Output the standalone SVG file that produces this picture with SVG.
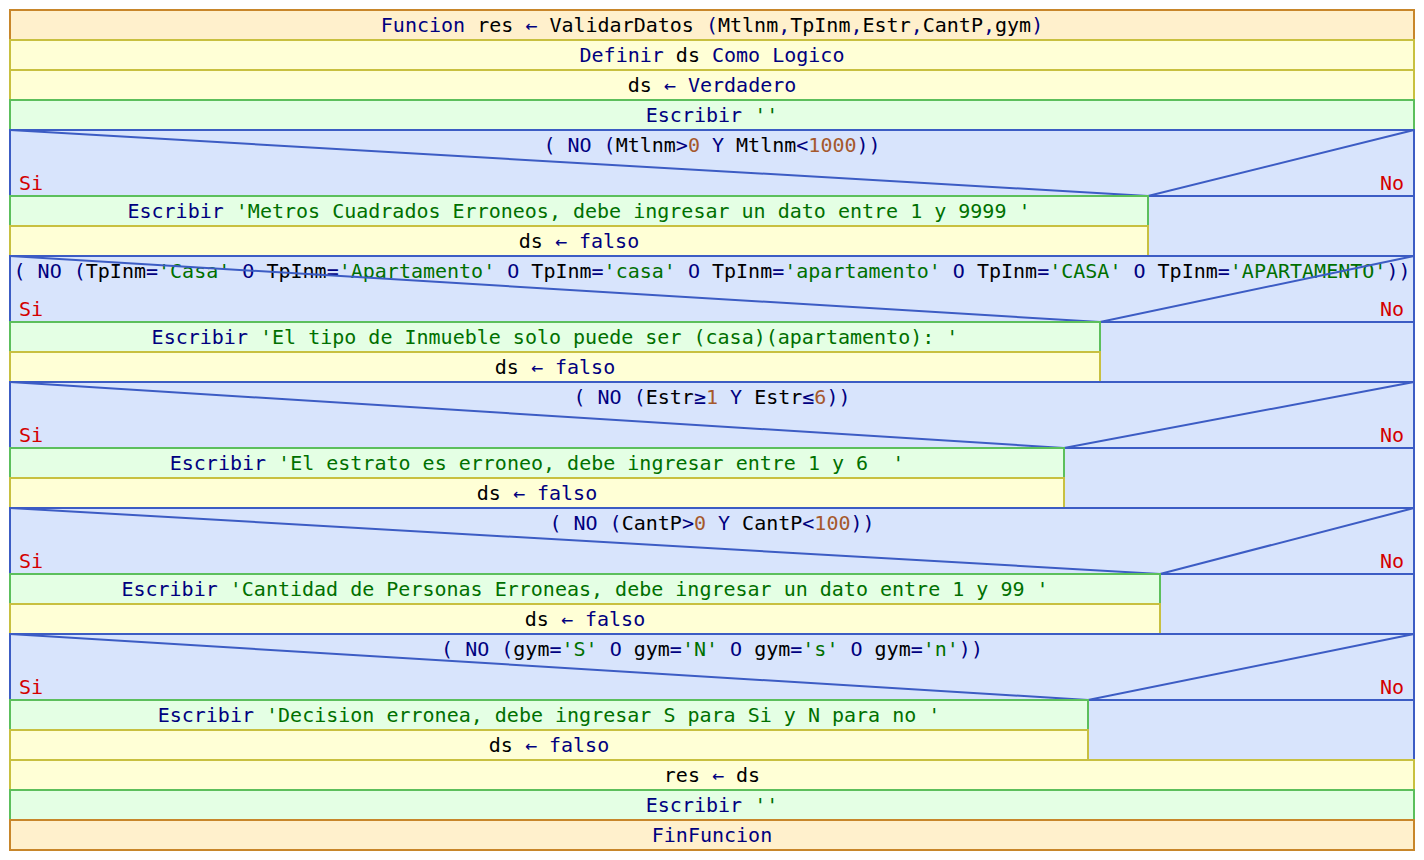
<svg xmlns="http://www.w3.org/2000/svg" width="1424" height="860" viewBox="0 0 1424 860" xml:space="preserve">
<style>
text{font-family:"DejaVu Sans Mono","Liberation Mono",monospace;font-size:20px;fill:#00007f;white-space:pre;text-anchor:middle}
.v{fill:#000}
.n{fill:#a5582c}
.s{fill:#007000}
.si{fill:#d40000;text-anchor:start}
.no{fill:#d40000;text-anchor:end}
.fn{fill:#fff0cc;stroke:#c8862a;stroke-width:2}
.as{fill:#ffffd6;stroke:#c8c040;stroke-width:2}
.wr{fill:#e4ffe4;stroke:#5cbf5c;stroke-width:2}
.dc{fill:#d8e4fc;stroke:#3c5cc4;stroke-width:2}
.dl{fill:none;stroke:#3c5cc4;stroke-width:2}
</style>
<rect width="1424" height="860" fill="#fff"/>
<g id="n-funcion"><rect class="fn" x="10" y="10" width="1404" height="30"/><text x="712" y="32">Funcion <tspan class="v">res</tspan> ← <tspan class="v">ValidarDatos</tspan> (<tspan class="v">Mtlnm</tspan>,<tspan class="v">TpInm</tspan>,<tspan class="v">Estr</tspan>,<tspan class="v">CantP</tspan>,<tspan class="v">gym</tspan>)</text></g>
<g id="n-definir"><rect class="as" x="10" y="40" width="1404" height="30"/><text x="712" y="62">Definir <tspan class="v">ds</tspan> Como Logico</text></g>
<g id="n-asig1"><rect class="as" x="10" y="70" width="1404" height="30"/><text x="712" y="92"><tspan class="v">ds</tspan> ← Verdadero</text></g>
<g id="n-esc0"><rect class="wr" x="10" y="100" width="1404" height="30"/><text x="712" y="122">Escribir <tspan class="s">''</tspan></text></g>

<g id="n-if1">
<rect class="dc" x="10" y="130" width="1404" height="126"/>
<text x="712" y="152">( NO (<tspan class="v">Mtlnm</tspan>&gt;<tspan class="n">0</tspan> Y <tspan class="v">Mtlnm</tspan>&lt;<tspan class="n">1000</tspan>))</text>
<path class="dl" d="M10 130L1148 196L1414 130M10 196H1414M1148 196V256"/>
<text class="si" x="19" y="190">Si</text><text class="no" x="1404" y="190">No</text>
<rect class="wr" x="10" y="196" width="1138" height="30"/><text x="579" y="218">Escribir <tspan class="s">'Metros Cuadrados Erroneos, debe ingresar un dato entre 1 y 9999 '</tspan></text>
<rect class="as" x="10" y="226" width="1138" height="30"/><text x="579" y="248"><tspan class="v">ds</tspan> ← falso</text>
</g>

<g id="n-if2">
<rect class="dc" x="10" y="256" width="1404" height="126"/>
<text x="712" y="278">( NO (<tspan class="v">TpInm</tspan>=<tspan class="s">'Casa'</tspan> O <tspan class="v">TpInm</tspan>=<tspan class="s">'Apartamento'</tspan> O <tspan class="v">TpInm</tspan>=<tspan class="s">'casa'</tspan> O <tspan class="v">TpInm</tspan>=<tspan class="s">'apartamento'</tspan> O <tspan class="v">TpInm</tspan>=<tspan class="s">'CASA'</tspan> O <tspan class="v">TpInm</tspan>=<tspan class="s">'APARTAMENTO'</tspan>))</text>
<path class="dl" d="M10 256L1100 322L1414 256M10 322H1414M1100 322V382"/>
<text class="si" x="19" y="316">Si</text><text class="no" x="1404" y="316">No</text>
<rect class="wr" x="10" y="322" width="1090" height="30"/><text x="555" y="344">Escribir <tspan class="s">'El tipo de Inmueble solo puede ser (casa)(apartamento): '</tspan></text>
<rect class="as" x="10" y="352" width="1090" height="30"/><text x="555" y="374"><tspan class="v">ds</tspan> ← falso</text>
</g>

<g id="n-if3">
<rect class="dc" x="10" y="382" width="1404" height="126"/>
<text x="712" y="404">( NO (<tspan class="v">Estr</tspan>≥<tspan class="n">1</tspan> Y <tspan class="v">Estr</tspan>≤<tspan class="n">6</tspan>))</text>
<path class="dl" d="M10 382L1064 448L1414 382M10 448H1414M1064 448V508"/>
<text class="si" x="19" y="442">Si</text><text class="no" x="1404" y="442">No</text>
<rect class="wr" x="10" y="448" width="1054" height="30"/><text x="537" y="470">Escribir <tspan class="s">'El estrato es erroneo, debe ingresar entre 1 y 6  '</tspan></text>
<rect class="as" x="10" y="478" width="1054" height="30"/><text x="537" y="500"><tspan class="v">ds</tspan> ← falso</text>
</g>

<g id="n-if4">
<rect class="dc" x="10" y="508" width="1404" height="126"/>
<text x="712" y="530">( NO (<tspan class="v">CantP</tspan>&gt;<tspan class="n">0</tspan> Y <tspan class="v">CantP</tspan>&lt;<tspan class="n">100</tspan>))</text>
<path class="dl" d="M10 508L1160 574L1414 508M10 574H1414M1160 574V634"/>
<text class="si" x="19" y="568">Si</text><text class="no" x="1404" y="568">No</text>
<rect class="wr" x="10" y="574" width="1150" height="30"/><text x="585" y="596">Escribir <tspan class="s">'Cantidad de Personas Erroneas, debe ingresar un dato entre 1 y 99 '</tspan></text>
<rect class="as" x="10" y="604" width="1150" height="30"/><text x="585" y="626"><tspan class="v">ds</tspan> ← falso</text>
</g>

<g id="n-if5">
<rect class="dc" x="10" y="634" width="1404" height="126"/>
<text x="712" y="656">( NO (<tspan class="v">gym</tspan>=<tspan class="s">'S'</tspan> O <tspan class="v">gym</tspan>=<tspan class="s">'N'</tspan> O <tspan class="v">gym</tspan>=<tspan class="s">'s'</tspan> O <tspan class="v">gym</tspan>=<tspan class="s">'n'</tspan>))</text>
<path class="dl" d="M10 634L1088 700L1414 634M10 700H1414M1088 700V760"/>
<text class="si" x="19" y="694">Si</text><text class="no" x="1404" y="694">No</text>
<rect class="wr" x="10" y="700" width="1078" height="30"/><text x="549" y="722">Escribir <tspan class="s">'Decision erronea, debe ingresar S para Si y N para no '</tspan></text>
<rect class="as" x="10" y="730" width="1078" height="30"/><text x="549" y="752"><tspan class="v">ds</tspan> ← falso</text>
</g>

<g id="n-res"><rect class="as" x="10" y="760" width="1404" height="30"/><text x="712" y="782"><tspan class="v">res</tspan> ← <tspan class="v">ds</tspan></text></g>
<g id="n-esc6"><rect class="wr" x="10" y="790" width="1404" height="30"/><text x="712" y="812">Escribir <tspan class="s">''</tspan></text></g>
<g id="n-fin"><rect class="fn" x="10" y="820" width="1404" height="30"/><text x="712" y="842">FinFuncion</text></g>
<g id="connectors"/>
</svg>
